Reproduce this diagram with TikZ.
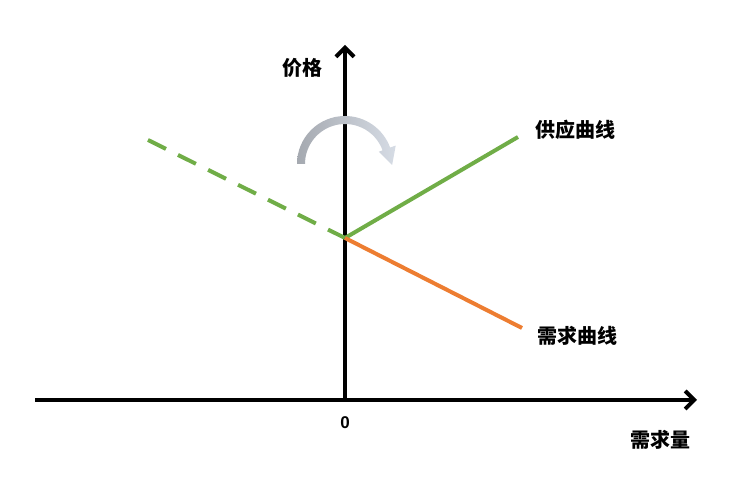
\documentclass[tikz,border=0pt]{standalone}
\usepackage{fontspec}
\newfontfamily\cjk{Noto Sans CJK SC}
\newfontfamily\numfont{Liberation Sans}
\usetikzlibrary{arrows.meta, calc}
\definecolor{cgreen}{HTML}{70AD47}
\definecolor{corange}{HTML}{ED7D31}
\definecolor{cgreyl}{HTML}{A5A9B0}
\definecolor{cgreyr}{HTML}{D6DCE5}
\tikzset{
  every picture/.style={x=1pt, y=1pt},
  axis/.style={-{Straight Barb[length=9pt, width=18pt, line width=4pt]}, line width=4pt, black},
  curve/.style={line width=4pt, draw=#1},
  lab/.style={font=\cjk\bfseries\fontsize{20}{24}\selectfont, inner sep=0pt},
}

\begin{document}
\begin{tikzpicture}
  \useasboundingbox (0,0) rectangle (737,494);
  % axes
  \coordinate (o) at (345,94);
  \coordinate (xl) at (35,94);
  \coordinate (xr) at (697,94);
  \coordinate (yt) at (345,449);
  \draw[axis] (xl) -- (xr);
  \draw[axis] (o) -- (yt);
  % curves
  \coordinate (eq) at (345,256);
  \coordinate (sup) at (518,357);
  \coordinate (supl) at (148,354);
  \coordinate (dem) at (522,166);
  \draw[curve=cgreen] (eq) -- (sup);
  \foreach \s/\e in {0/.091, .152/.243, .305/.396, .457/.548, .609/.700, .761/.852, .914/1}
    \draw[curve=cgreen] ($(supl)!\s!(eq)$) -- ($(supl)!\e!(eq)$);
  \draw[curve=corange] (eq) -- (dem);
  % turning arrow
  \coordinate (c) at (345,330);
  \shade[left color=cgreyl, right color=cgreyr]
    ($(c)+(180:48)$) arc[start angle=180, end angle=20, radius=48]
    -- ($(c)+(20:54)$) -- ($(c)+(20:44)+(-70:17)$) -- ($(c)+(20:36)$)
    -- ($(c)+(20:40)$) arc[start angle=20, end angle=180, radius=40] -- cycle;
  % labels
  \node[lab] (price) at (302,426) {价格};
  \node[lab] (supname) at (575,364) {供应曲线};
  \node[lab] (demname) at (577,158) {需求曲线};
  \node[lab] (qty) at (660,54) {需求量};
  \node[font=\numfont\bfseries\fontsize{17}{19}\selectfont] (zero) at (345,71) {0};
\end{tikzpicture}
\end{document}
